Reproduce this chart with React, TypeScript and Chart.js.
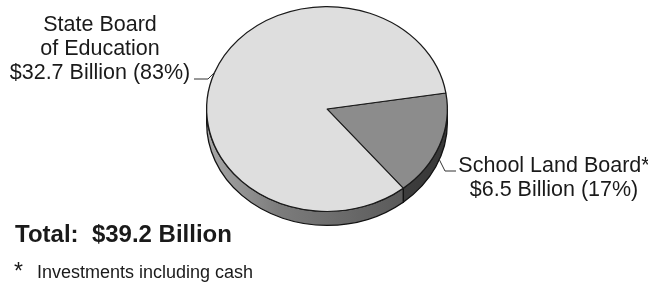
import React, { useEffect, useRef } from "react";
import { Chart, registerables } from "chart.js";

Chart.register(...registerables);

// ---- data ----
const categories = ["School Land Board*", "State Board of Education"];
const labelLines = [["School Land Board*"], ["State Board", "of Education"]];
const valuesBillion = [6.5, 32.7];
const footnoteMark = "*";
const footnoteText = "Investments including cash";

// ---- styling / layout ----
const TOP_COLORS = ["#8c8c8c", "#dedede"];
const K = 0.851; // vertical squash of the pie top
const TARGET_CY = 109; // screen y of the pie centre
const DEPTH = 14; // wall thickness in screen px
const ROTATION = 81;
const FONT = '"Liberation Sans", Arial, Helvetica, sans-serif';
const TEXT_COLOR = "#1a1a1a";

const LABEL_LAYOUT = [
  { cx: 554, baseline: 172, lineGap: 24, edgeAngle: 21, onBottom: true, path: [[445, 171], [456, 171]] },
  { cx: 100, baseline: 31, lineGap: 24, edgeAngle: 201, onBottom: false, path: [[208, 79], [194, 79]] },
];

const TWO_PI = Math.PI * 2;

function edgePoint(arc: any, deg: number, bottom: boolean) {
  const a = (deg * Math.PI) / 180;
  const r = arc.outerRadius;
  return [arc.x + r * Math.cos(a), TARGET_CY + K * r * Math.sin(a) + (bottom ? DEPTH : 0)];
}

const pie3d = {
  id: "pie3d",
  beforeDatasetsDraw(chart: any) {
    const meta = chart.getDatasetMeta(0);
    const arcs = meta.data;
    const ctx = chart.ctx;
    ctx.save();
    chart.$pie3dSaved = true;
    if (!arcs.length) return;
    const { x, y } = arcs[0];
    ctx.translate(0, TARGET_CY);
    ctx.scale(1, K);
    ctx.translate(0, -y);
    const d = DEPTH / K;
    arcs.forEach((arc: any, i: number) => {
      const r = arc.outerRadius;
      const span = arc.endAngle - arc.startAngle;
      const s = ((arc.startAngle % TWO_PI) + TWO_PI) % TWO_PI;
      const e = s + span;
      const ranges: number[][] = [];
      for (const base of [0, TWO_PI]) {
        const a1 = Math.max(s, base);
        const a2 = Math.min(e, base + Math.PI);
        if (a2 > a1) ranges.push([a1, a2]);
      }
      ranges.forEach(([a1, a2]) => {
        ctx.beginPath();
        ctx.arc(x, y, r, a1, a2);
        ctx.arc(x, y + d, r, a2, a1, true);
        ctx.closePath();
        const g = ctx.createLinearGradient(x - r, 0, x + r, 0);
        if (i === 0) {
          g.addColorStop(0, "#505050");
          g.addColorStop(1, "#383838");
        } else {
          g.addColorStop(0, "#a8a8a8");
          g.addColorStop(0.3, "#7c7c7c");
          g.addColorStop(1, "#4e4e4e");
        }
        ctx.fillStyle = g;
        ctx.fill();
        ctx.lineWidth = 1.3;
        ctx.strokeStyle = "#111";
        ctx.stroke();
      });
    });
  },
  afterDatasetsDraw(chart: any) {
    if (chart.$pie3dSaved) {
      chart.ctx.restore();
      chart.$pie3dSaved = false;
    }
  },
};

const labelsPlugin = {
  id: "pieLabels",
  afterDraw(chart: any) {
    const ctx = chart.ctx;
    const arcs = chart.getDatasetMeta(0).data;
    const total = valuesBillion.reduce((a, b) => a + b, 0);
    ctx.save();
    ctx.fillStyle = TEXT_COLOR;
    ctx.textAlign = "center";
    ctx.textBaseline = "alphabetic";
    ctx.font = `21.5px ${FONT}`;
    LABEL_LAYOUT.forEach((lay, i) => {
      const v = valuesBillion[i];
      const pct = Math.round((v / total) * 100);
      const lines = [...labelLines[i], `$${v} Billion (${pct}%)`];
      lines.forEach((t, j) => ctx.fillText(t, lay.cx, lay.baseline + j * lay.lineGap));
      const arc = arcs[i];
      if (arc) {
        const p = edgePoint(arc, lay.edgeAngle, lay.onBottom);
        ctx.beginPath();
        ctx.moveTo(p[0], p[1]);
        lay.path.forEach((q) => ctx.lineTo(q[0], q[1]));
        ctx.strokeStyle = "#333";
        ctx.lineWidth = 1;
        ctx.stroke();
      }
    });
    ctx.textAlign = "left";
    ctx.font = `bold 24px ${FONT}`;
    ctx.fillText(`Total:  $${total.toFixed(1)} Billion`, 15, 242);
    ctx.font = `23px ${FONT}`;
    ctx.fillText(footnoteMark, 14, 279);
    ctx.font = `18px ${FONT}`;
    ctx.fillText(footnoteText, 37, 278);
    ctx.restore();
  },
};

export default function App() {
  const ref = useRef<HTMLCanvasElement | null>(null);
  useEffect(() => {
    document.body.style.margin = "0";
    const canvas = ref.current;
    if (!canvas) return;
    const chart = new Chart(canvas, {
      type: "pie",
      data: {
        labels: categories,
        datasets: [
          {
            data: valuesBillion,
            backgroundColor: TOP_COLORS,
            borderColor: "#1a1a1a",
            borderWidth: 1.3,
            clip: false,
          } as any,
        ],
      },
      options: {
        responsive: false,
        animation: false,
        events: [],
        rotation: ROTATION,
        layout: { padding: { left: 206, right: 200, top: 20, bottom: 20 } },
        plugins: { legend: { display: false }, tooltip: { enabled: false } },
      },
      plugins: [pie3d, labelsPlugin],
    });
    return () => chart.destroy();
  }, []);
  return (
    <div style={{ width: 648, height: 282, background: "#fff" }}>
      <canvas ref={ref} width={648} height={282} style={{ display: "block" }} />
    </div>
  );
}
